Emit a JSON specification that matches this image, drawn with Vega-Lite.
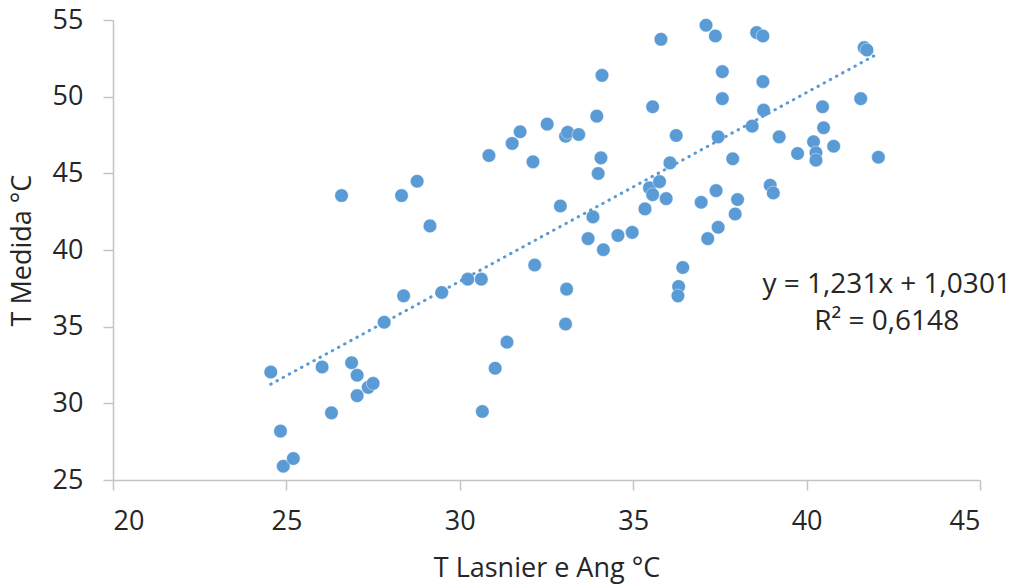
{
  "$schema": "https://vega.github.io/schema/vega-lite/v6.json",
  "width": 867,
  "height": 460,
  "autosize": "none",
  "padding": {"left": 113, "top": 20, "right": 44, "bottom": 108},
  "background": "white",
  "config": {"view": {"stroke": null}, "font": "Open Sans"},
  "datasets": {
    "pts": [
      {"x": 24.55, "y": 32.04}, {"x": 24.83, "y": 28.19}, {"x": 24.91, "y": 25.90}, {"x": 25.20, "y": 26.40},
      {"x": 26.03, "y": 32.37}, {"x": 26.30, "y": 29.38}, {"x": 26.59, "y": 43.55}, {"x": 26.88, "y": 32.65},
      {"x": 27.04, "y": 31.83}, {"x": 27.04, "y": 30.50}, {"x": 27.36, "y": 31.04}, {"x": 27.50, "y": 31.30},
      {"x": 27.82, "y": 35.29}, {"x": 28.32, "y": 43.55}, {"x": 28.38, "y": 37.01}, {"x": 28.77, "y": 44.48},
      {"x": 29.14, "y": 41.57}, {"x": 29.48, "y": 37.23}, {"x": 30.23, "y": 38.10}, {"x": 30.62, "y": 38.10},
      {"x": 30.65, "y": 29.47}, {"x": 30.84, "y": 46.16}, {"x": 31.02, "y": 32.29}, {"x": 31.36, "y": 33.99},
      {"x": 31.51, "y": 46.95}, {"x": 31.74, "y": 47.71}, {"x": 32.11, "y": 45.75}, {"x": 32.16, "y": 39.02},
      {"x": 32.52, "y": 48.21}, {"x": 32.90, "y": 42.87}, {"x": 33.05, "y": 47.42}, {"x": 33.11, "y": 47.67},
      {"x": 33.08, "y": 37.45}, {"x": 33.05, "y": 35.17}, {"x": 33.43, "y": 47.53}, {"x": 33.70, "y": 40.74},
      {"x": 33.84, "y": 42.16}, {"x": 33.95, "y": 48.73}, {"x": 34.07, "y": 46.01}, {"x": 33.99, "y": 44.99},
      {"x": 34.10, "y": 51.39}, {"x": 34.14, "y": 40.02}, {"x": 34.56, "y": 40.95}, {"x": 34.97, "y": 41.15},
      {"x": 35.34, "y": 42.68}, {"x": 35.47, "y": 44.05}, {"x": 35.56, "y": 43.61}, {"x": 35.76, "y": 44.46},
      {"x": 35.56, "y": 49.34}, {"x": 35.80, "y": 53.74}, {"x": 35.95, "y": 43.35}, {"x": 36.06, "y": 45.68},
      {"x": 36.24, "y": 47.47}, {"x": 36.31, "y": 37.62}, {"x": 36.29, "y": 37.01}, {"x": 36.43, "y": 38.86},
      {"x": 36.96, "y": 43.11}, {"x": 37.15, "y": 40.74}, {"x": 37.10, "y": 54.66}, {"x": 37.37, "y": 53.96},
      {"x": 37.39, "y": 43.87}, {"x": 37.45, "y": 41.48}, {"x": 37.45, "y": 47.38}, {"x": 37.57, "y": 51.63},
      {"x": 37.57, "y": 49.87}, {"x": 37.87, "y": 45.95}, {"x": 37.94, "y": 42.35}, {"x": 38.01, "y": 43.29},
      {"x": 38.43, "y": 48.08}, {"x": 38.56, "y": 54.18}, {"x": 38.74, "y": 53.96}, {"x": 38.74, "y": 50.98},
      {"x": 38.76, "y": 49.12}, {"x": 38.95, "y": 44.22}, {"x": 39.04, "y": 43.72}, {"x": 39.21, "y": 47.38},
      {"x": 39.74, "y": 46.29}, {"x": 40.20, "y": 47.06}, {"x": 40.27, "y": 46.34}, {"x": 40.27, "y": 45.86},
      {"x": 40.46, "y": 49.34}, {"x": 40.49, "y": 47.97}, {"x": 40.78, "y": 46.77}, {"x": 41.56, "y": 49.87},
      {"x": 41.66, "y": 53.20}, {"x": 41.74, "y": 53.04}, {"x": 42.07, "y": 46.05}
    ],
    "trend": [{"x": 24.55, "y": 31.25}, {"x": 42.07, "y": 52.82}],
    "notes": [
      {"x": 42.31, "y": 37.72, "label": "y = 1,231x + 1,0301"},
      {"x": 42.31, "y": 35.31, "label": "R² = 0,6148"}
    ]
  },
  "encoding": {
    "x": {
      "field": "x", "type": "quantitative",
      "scale": {"domain": [20, 45], "nice": false, "zero": false},
      "axis": {
        "title": "T Lasnier e Ang °C", "values": [20, 25, 30, 35, 40, 45], "grid": false,
        "domainColor": "#C4C4C4", "domainWidth": 1.5, "tickColor": "#C4C4C4", "tickWidth": 1.5, "tickSize": 10,
        "labelFontSize": 27, "labelColor": "#262626", "labelPadding": 18, "labelFont": "Open Sans",
        "titleFontSize": 27, "titleColor": "#262626", "titleFontWeight": "normal", "titlePadding": 21, "titleFont": "Open Sans"
      }
    },
    "y": {
      "field": "y", "type": "quantitative",
      "scale": {"domain": [25, 55], "nice": false, "zero": false},
      "axis": {
        "title": "T Medida °C", "values": [25, 30, 35, 40, 45, 50, 55], "grid": false,
        "domainColor": "#C4C4C4", "domainWidth": 1.5, "tickColor": "#C4C4C4", "tickWidth": 1.5, "tickSize": 10,
        "labelFontSize": 27, "labelColor": "#262626", "labelPadding": 20, "labelFont": "Open Sans",
        "titleFontSize": 27, "titleColor": "#262626", "titleFontWeight": "normal", "titlePadding": 16, "titleFont": "Open Sans"
      }
    }
  },
  "layer": [
    {
      "data": {"name": "pts"},
      "mark": {"type": "point", "filled": true, "size": 185, "color": "#5B9BD5", "opacity": 1, "stroke": "#FFFFFF", "strokeWidth": 0.6, "strokeOpacity": 0.7}
    },
    {
      "data": {"name": "trend"},
      "mark": {"type": "line", "color": "#5B9BD5", "strokeWidth": 3, "strokeDash": [0.5, 6.5], "strokeCap": "round"}
    },
    {
      "data": {"name": "notes"},
      "mark": {"type": "text", "fontSize": 28, "font": "Open Sans", "color": "#262626", "align": "center", "baseline": "middle", "clip": false},
      "encoding": {"text": {"field": "label", "type": "nominal"}}
    }
  ]
}
